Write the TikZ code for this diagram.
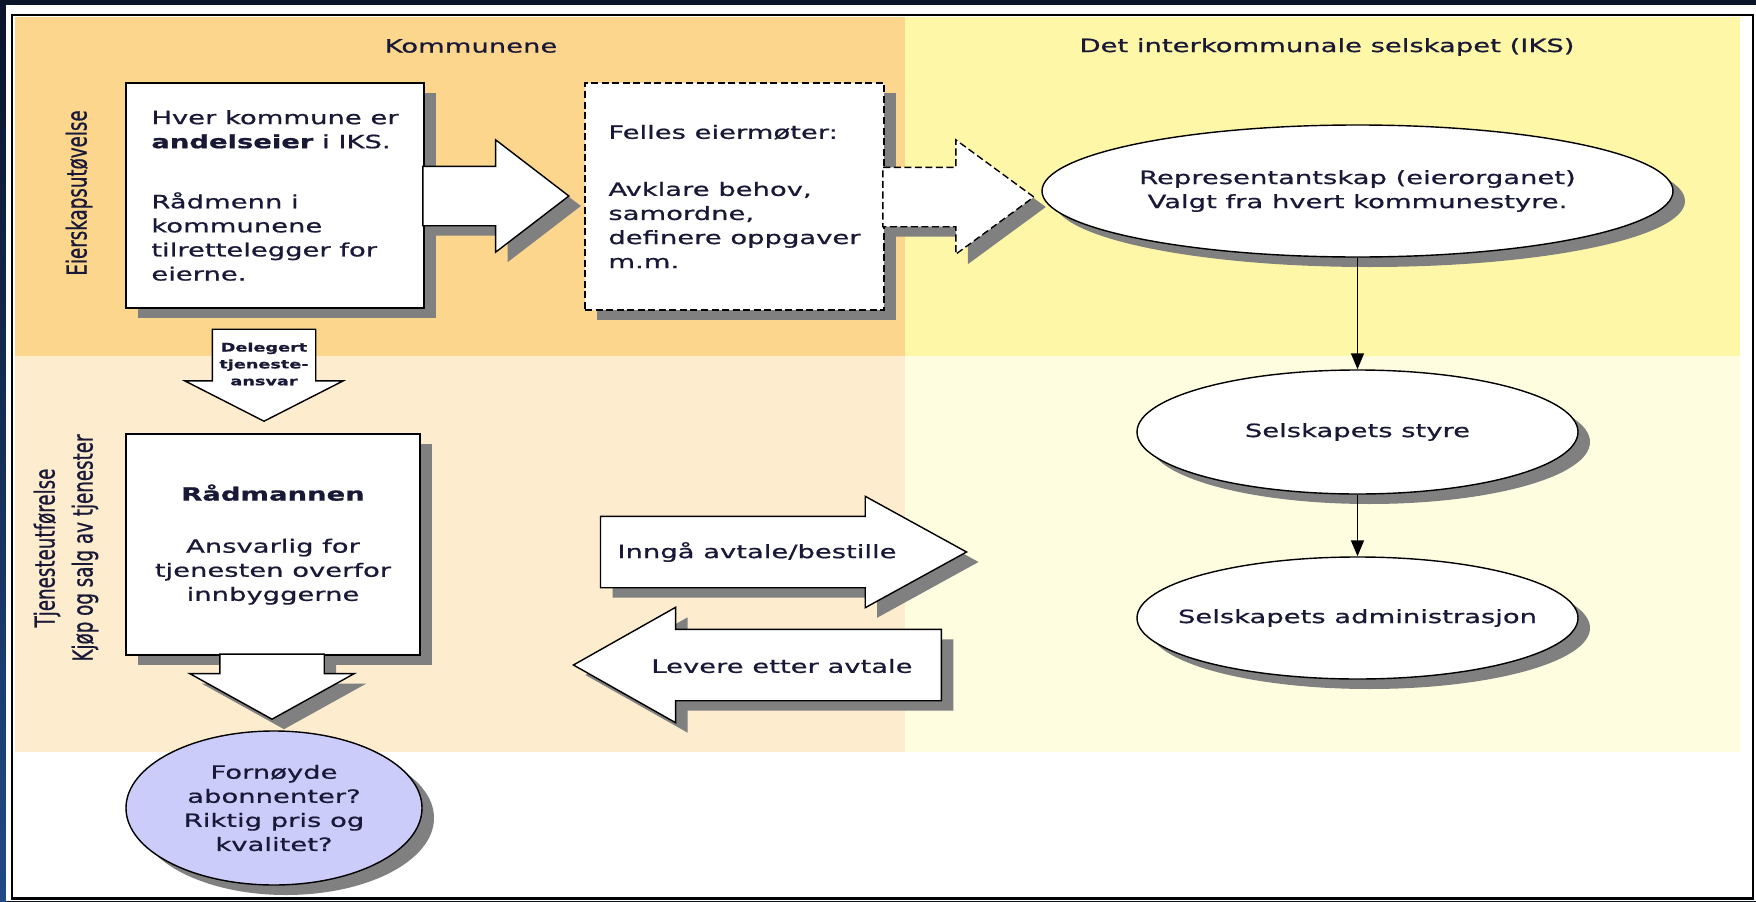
\documentclass[tikz,border=0pt]{standalone}
\usepackage{fontspec}
\usepackage{graphicx}
\setmainfont{DejaVu Sans}[FakeStretch=1.5,FakeBold=0.8]
\newfontfamily\vertfont{DejaVu Sans}[FakeBold=0.8]
\usepackage{tikz}
\usetikzlibrary{shapes.geometric,shapes.arrows,shadows,arrows.meta}

\definecolor{navy}{RGB}{10,20,42}
\definecolor{sideblue}{RGB}{32,74,134}
\definecolor{orangebg}{RGB}{253,214,142}
\definecolor{yellowbg}{RGB}{255,247,168}
\definecolor{peachbg}{RGB}{253,236,206}
\definecolor{paleyellow}{RGB}{255,253,224}
\definecolor{lavender}{RGB}{204,204,250}
\definecolor{shadowgray}{RGB}{128,128,128}
\definecolor{textcol}{RGB}{25,25,55}

\begin{document}
\begin{tikzpicture}[font=\fontsize{10.4}{13.7}\selectfont, text=textcol,
    shadowed/.style={drop shadow={shadow xshift=0.24cm, shadow yshift=-0.2cm, fill=shadowgray, opacity=1}},
    boxnode/.style={rectangle, draw=black, fill=white, line width=0.8pt, shadowed},
    ovalnode/.style={ellipse, draw=black, fill=white, line width=0.8pt, shadowed, align=center, inner xsep=-1cm, inner ysep=0pt},
    arrownode/.style={single arrow, draw=black, fill=white, line width=0.8pt, inner xsep=0pt, anchor=tip},
    sidetext/.style={rotate=90, font=\vertfont\fontsize{10.4}{13.7}\selectfont}]
            \useasboundingbox (0,0) rectangle (35.12,-18.04);
            \fill[navy] (0,0) rectangle (35.12,-18.04);
            \shade[top color=navy, bottom color=sideblue] (0,0) rectangle (0.12,-18.04);
            \fill[white] (0.12,-0.1) rectangle (35.12,-18.02);
            \fill[orangebg] (0.3,-0.34) rectangle (18.1,-7.12);
            \fill[yellowbg] (18.1,-0.34) rectangle (34.8,-7.12);
            \fill[peachbg] (0.3,-7.12) rectangle (18.1,-15.04);
            \fill[paleyellow] (18.1,-7.12) rectangle (34.8,-15.04);
            \draw[line width=0.05cm] (0.24,-0.3) rectangle (35.06,-17.97);

            \node (H1) at (9.42,-0.92) {Kommunene};
            \node (H2) at (26.54,-0.94) {Det interkommunale selskapet (IKS)};
            \node[sidetext] (S1) at (1.58,-3.86) {\scalebox{1}[1.5]{Eierskapsutøvelse}};
            \node[sidetext] (S2) at (0.94,-10.96) {\scalebox{1}[1.5]{Tjenesteutførelse}};
            \node[sidetext] (S3) at (1.7,-10.96) {\scalebox{1}[1.5]{Kjøp og salg av tjenester}};

            \node[boxnode, minimum width=5.96cm, minimum height=4.5cm, align=left] (B1) at (5.5,-3.91) {Hver kommune er\\\textbf{andelseier} i IKS.\\[0.72cm]Rådmenn i\\kommunene\\tilrettelegger for\\eierne.};
            \node[boxnode, dash pattern=on 4pt off 2pt, minimum width=5.98cm, minimum height=4.54cm, align=left] (B2) at (14.69,-3.93) {Felles eiermøter:\\[0.66cm]Avklare behov,\\samordne,\\definere oppgaver\\m.m.};
            \node[boxnode, minimum width=5.88cm, minimum height=4.42cm, align=center] (B3) at (5.46,-10.89) {\textbf{Rådmannen}\\[0.56cm]Ansvarlig for\\tjenesten overfor\\innbyggerne};

            \node[arrownode, shadowed, minimum height=2.92cm, inner ysep=0.58cm, single arrow head extend=0.53cm, single arrow tip angle=75] (P1) at (11.4,-3.92) {};
            \node[arrownode, shadowed, dash pattern=on 4pt off 2pt, minimum height=3.02cm, inner ysep=0.58cm, single arrow head extend=0.55cm, single arrow tip angle=72.5] (P2) at (20.7,-3.94) {};
            \node[arrownode, rotate=-90, minimum height=1.84cm, inner ysep=1.02cm, single arrow head extend=0.55cm, single arrow tip angle=126] (P3) at (5.28,-8.44) {};
            \node[arrownode, shadowed, rotate=-90, minimum height=1.3cm, inner ysep=1.03cm, single arrow head extend=0.6cm, single arrow tip angle=122] (P4) at (5.44,-14.4) {};
            \node[arrownode, shadowed, minimum height=7.32cm, inner ysep=0.7cm, single arrow head extend=0.4cm, single arrow tip angle=57.6] (P5) at (19.36,-11.04) {};
            \node[arrownode, shadowed, rotate=180, minimum height=7.36cm, inner ysep=0.7cm, single arrow head extend=0.44cm, single arrow tip angle=58.9] (P6) at (11.44,-13.3) {};

            \node[font=\fontsize{6.7}{9.6}\selectfont\bfseries, align=center] (T3) at (5.28,-7.28) {Delegert\\tjeneste-\\ansvar};
            \node (T5) at (15.14,-11.04) {Inngå avtale/bestille};
            \node (T6) at (15.64,-13.32) {Levere etter avtale};

            \node[ovalnode, minimum width=12.62cm, minimum height=2.64cm] (E1) at (27.15,-3.82) {Representantskap (eierorganet)\\Valgt fra hvert kommunestyre.};
            \node[ovalnode, minimum width=8.82cm, minimum height=2.48cm] (E2) at (27.15,-8.64) {Selskapets styre};
            \node[ovalnode, minimum width=8.82cm, minimum height=2.44cm] (E3) at (27.15,-12.36) {Selskapets administrasjon};
            \node[ovalnode, fill=lavender, minimum width=5.92cm, minimum height=3.08cm] (E4) at (5.48,-16.16) {Fornøyde\\abonnenter?\\Riktig pris og\\kvalitet?};

            \tikzset{linkstyle/.style={-{Triangle[length=0.32cm,width=0.26cm]}, line width=0.9pt}}

            \draw[linkstyle] (E1) -- (E2);
            \draw[linkstyle] (E2) -- (E3);

\end{tikzpicture}
\end{document}
